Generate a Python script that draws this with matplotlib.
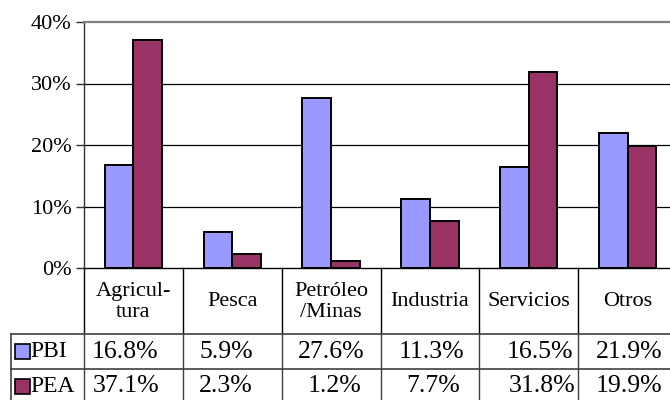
import matplotlib
matplotlib.use("Agg")
import matplotlib.pyplot as plt
from matplotlib.transforms import blended_transform_factory
from matplotlib.lines import Line2D
from matplotlib.patches import Rectangle
import numpy as np

categories = ["Agricul-\ntura", "Pesca", "Petróleo\n/Minas", "Industria", "Servicios", "Otros"]
series_names = ["PBI", "PEA"]
pbi = [16.8, 5.9, 27.6, 11.3, 16.5, 21.9]
pea = [37.1, 2.3, 1.2, 7.7, 31.8, 19.9]
yticks = [0, 10, 20, 30, 40]
ytick_labels = ["0%", "10%", "20%", "30%", "40%"]

colors = ["#9999FF", "#993366"]
# small horizontal text offsets inside table cells (layout only)
pbi_off = [-0.09, -0.06, 0.0, 0.02, 0.11, 0.015]
pea_off = [-0.07, -0.07, 0.04, 0.03, 0.13, 0.015]

plt.rcParams['font.family'] = ['Liberation Serif', 'DejaVu Serif']

W, H = 670, 400
fig = plt.figure(figsize=(W / 100, H / 100), dpi=100)

def fy(py):
    return 1 - py / H

x0, x1 = 84, 677
y_top, y_bot = 21.9, 268.3
ax = fig.add_axes([x0 / W, fy(y_bot), (x1 - x0) / W, (y_bot - y_top) / H])

x = np.arange(len(categories))
bw = 0.29
for vals, off, c in [(pbi, -bw / 2, colors[0]), (pea, bw / 2, colors[1])]:
    ax.bar(x + off, vals, width=bw, color=c, edgecolor="black", linewidth=1.4, zorder=3)

ax.set_xlim(-0.5, len(categories) - 0.5)
ax.set_ylim(0, 40)
ax.set_yticks(yticks)
ax.set_yticklabels(ytick_labels, fontsize=16)
ax.set_xticks([])
for yv in yticks[1:-1]:
    ax.axhline(yv, color="black", linewidth=0.9, zorder=1)
ax.spines['right'].set_visible(False)
ax.spines['top'].set_color("#808080")
ax.spines['top'].set_linewidth(1.6)
ax.spines['left'].set_color("#303030")
ax.spines['bottom'].set_color("black")
ax.spines['left'].set_linewidth(1.0)
ax.spines['bottom'].set_linewidth(1.0)
ax.tick_params(axis='y', direction='out', length=6, width=1, color="#303030", pad=3)

bx = blended_transform_factory(ax.transData, fig.transFigure)

# header row: category separators
for i in range(len(categories) + 1):
    fig.add_artist(Line2D([i - 0.5, i - 0.5], [fy(268), fy(334)], color="black",
                          linewidth=1.0, transform=bx))
    fig.add_artist(Line2D([i - 0.5, i - 0.5], [fy(334), fy(400)], color="#404040",
                          linewidth=1.0, transform=bx))
# category labels
for i, cat in enumerate(categories):
    fig.text(i, fy(302), cat, transform=bx, ha="center", va="center",
             fontsize=16, linespacing=1.18)

# horizontal table lines
for py in [334, 369]:
    fig.add_artist(Line2D([11 / W, 1], [fy(py), fy(py)], color="#404040",
                          linewidth=1.2, transform=fig.transFigure))
fig.add_artist(Line2D([11 / W, 11 / W], [fy(334), fy(400)], color="#404040",
                      linewidth=1.2, transform=fig.transFigure))

# legend keys and series names
row_y = [351.5, 386.5]
for name, c, ry in zip(series_names, colors, row_y):
    fig.add_artist(Rectangle((15 / W, fy(ry + 7.5)), 15 / W, 15 / H, facecolor=c,
                             edgecolor="black", linewidth=1.2, transform=fig.transFigure))
    fig.text(30 / W, fy(ry), name, ha="left", va="center", fontsize=17)

# values
for vals, offs, ry in [(pbi, pbi_off, row_y[0]), (pea, pea_off, row_y[1])]:
    for i, (v, o) in enumerate(zip(vals, offs)):
        fig.text(i + o, fy(ry), f"{v:.1f}%", transform=bx, ha="center", va="center",
                 fontsize=18.5)

fig.savefig("out.png", dpi=100)
